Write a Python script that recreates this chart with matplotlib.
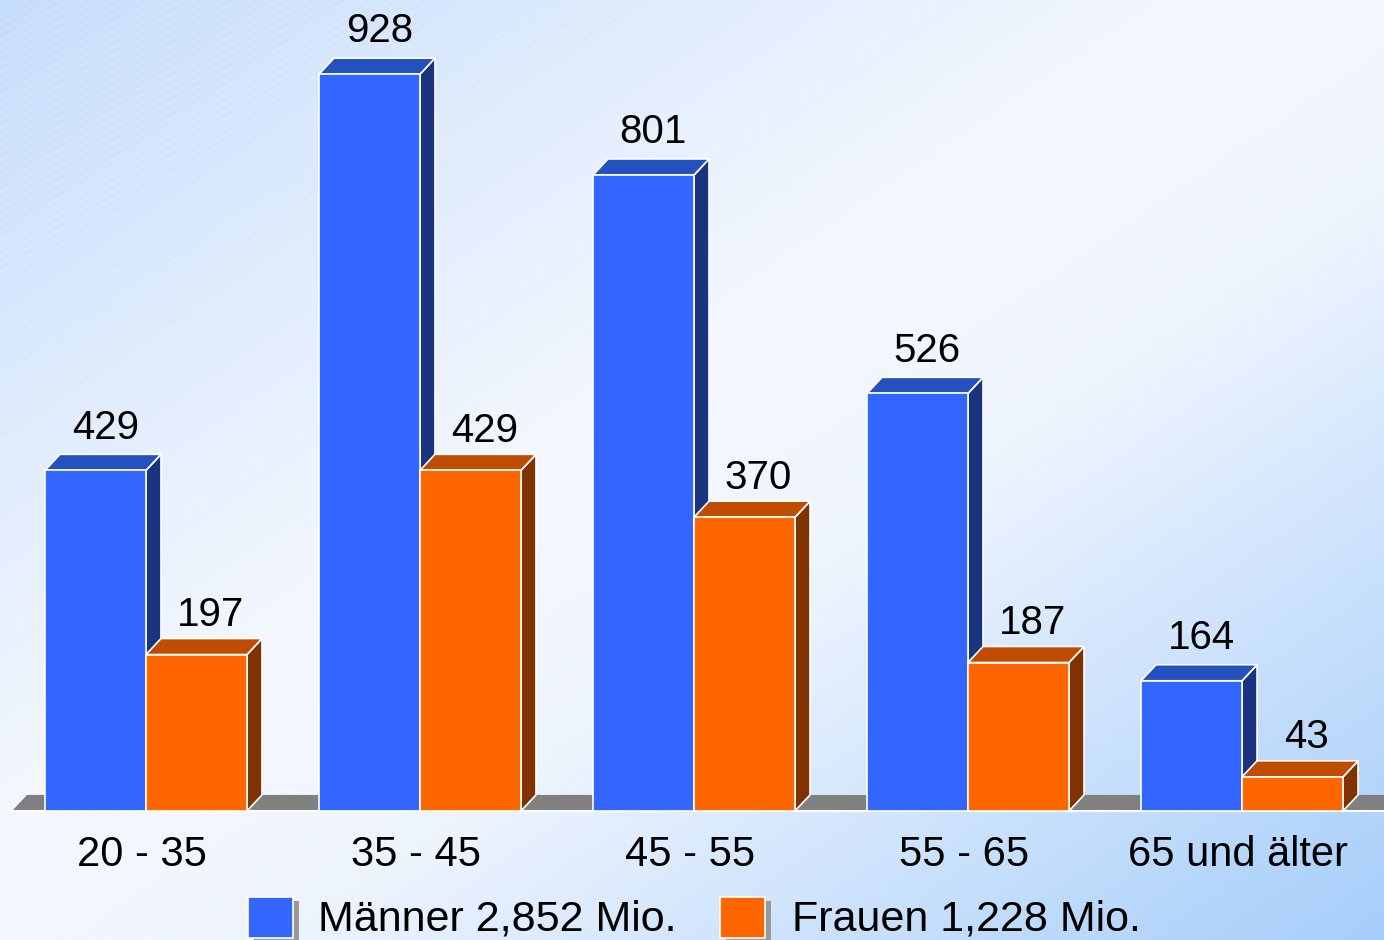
import numpy as np
import matplotlib
matplotlib.use("Agg")
import matplotlib.pyplot as plt
from matplotlib.patches import Polygon, Rectangle

plt.rcParams['font.family'] = ['Liberation Sans', 'DejaVu Sans']

categories = ["20 - 35", "35 - 45", "45 - 55", "55 - 65", "65 und älter"]
maenner = [429, 928, 801, 526, 164]
frauen = [197, 429, 370, 187, 43]
legend_labels = ["Männer 2,852 Mio.", "Frauen 1,228 Mio."]

blue = ("#3366FF", "#2550C0", "#1B3480")     # front, top, side
orange = ("#FF6600", "#BF4C00", "#803300")

W, H = 1384, 940
fig = plt.figure(figsize=(W / 100, H / 100), dpi=100)

# background gradient (diagonal, light blue corners, white middle)
bg = fig.add_axes([0, 0, 1, 1], zorder=0)
bg.axis("off")
yy, xx = np.mgrid[0:1:200j, 0:1:300j]
t = (xx + yy) / 2
stops = [0.0, 0.45, 0.6, 1.0]
cols = np.array([[198, 221, 251], [245, 248, 254], [238, 244, 254], [166, 206, 250]]) / 255
img = np.dstack([np.interp(t, stops, cols[:, k]) for k in range(3)])
bg.imshow(img, aspect="auto", extent=[0, W, H, 0])
# faint diagonal stripes
for c in np.arange(0, W + H * 0.6, 14):
    bg.plot([c - H * 1.75, c], [H, 0], color="white", lw=0.6, alpha=0.25)
bg.set_xlim(0, W)
bg.set_ylim(H, 0)

ax = fig.add_axes([0, 0, 1, 1], zorder=1)
ax.patch.set_alpha(0)
ax.axis("off")
ax.set_xlim(-0.5328, 4.518)
ax.set_ylim(-162.5, 1021.4)

x = np.arange(len(categories))
w = 0.3686
dx, dy = 0.0547, 20.2
ec = "white"

# floor
ax.add_patch(Polygon([(-0.489, 0), (-0.489 + dx, dy), (4.7, dy), (4.7, 0)],
                     closed=True, fc="#808080", ec="none", zorder=1))
ax.plot([-0.489, 4.7], [0, 0], color="white", lw=1.5, zorder=1.5)


def faces(x0, h, cset, z):
    ax.add_patch(Polygon([(x0 + w, 0), (x0 + w + dx, dy), (x0 + w + dx, h + dy), (x0 + w, h)],
                         closed=True, fc=cset[2], ec=ec, lw=1.2, zorder=z))
    ax.add_patch(Polygon([(x0, h), (x0 + dx, h + dy), (x0 + w + dx, h + dy), (x0 + w, h)],
                         closed=True, fc=cset[1], ec=ec, lw=1.2, zorder=z))


for xi, m, f in zip(x, maenner, frauen):
    faces(xi - w, m, blue, 2)
    faces(xi, f, orange, 4)

ax.bar(x - w, maenner, width=w, align="edge", color=blue[0], edgecolor=ec, lw=1.2, zorder=3)
ax.bar(x, frauen, width=w, align="edge", color=orange[0], edgecolor=ec, lw=1.2, zorder=5)

for xi, m, f in zip(x, maenner, frauen):
    ax.text(xi - w / 2 + 0.036, m + 40, str(m), ha="center", va="baseline", fontsize=29, zorder=6)
    ax.text(xi + w / 2 + 0.05, f + 36, str(f), ha="center", va="baseline", fontsize=29, zorder=6)

for xi, c in zip(x, categories):
    ax.text(xi - 0.015, -69, c, ha="center", va="baseline", fontsize=30, zorder=6)

# legend (pixel positions -> figure fraction)
def px(xp, yp):
    return xp / W, 1 - yp / H

for (x0, tx), cset, lab in zip([(248, 318), (720, 792)], [blue, orange], legend_labels):
    sx, sy = px(x0 + 6, 942)
    fig.patches.append(Rectangle((sx, sy), 45 / W, 41 / H, transform=fig.transFigure,
                                 fc="#999999", ec="none", zorder=3))
    bx, by = px(x0, 938)
    fig.patches.append(Rectangle((bx, by), 45 / W, 41 / H, transform=fig.transFigure,
                                 fc=cset[0], ec="white", lw=1.2, zorder=4))
    lx, ly = px(tx, 939)
    fig.text(lx, ly, lab, ha="left", va="bottom", fontsize=31, zorder=5)

fig.savefig("out.png", dpi=100)
